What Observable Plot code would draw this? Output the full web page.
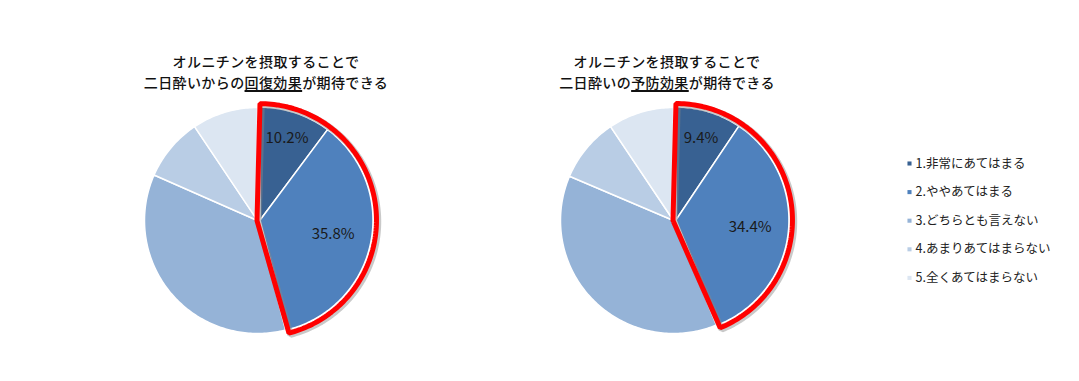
<!DOCTYPE html>
<html><head><meta charset="utf-8">
<script src="https://cdn.jsdelivr.net/npm/d3@7"></script>
<script src="https://cdn.jsdelivr.net/npm/@observablehq/plot@0.6"></script>
<style>
body{margin:0;background:#fff;}
#wrap{position:relative;width:1079px;height:381px;overflow:hidden;}
.tline{position:absolute;font-family:"Noto Sans CJK JP";font-size:14px;line-height:16px;height:16px;color:#111;font-weight:500;white-space:nowrap;transform:translateX(-50%);letter-spacing:0.4px;}
.tline span{display:inline-block;height:16px;line-height:16px;vertical-align:top;}
.tline span.u{text-decoration:underline;text-decoration-thickness:1.5px;text-underline-offset:2px;}
</style></head><body>
<div id="wrap"></div>
<script>
// ---- data ----
const categories = ["1.非常にあてはまる","2.ややあてはまる","3.どちらとも言えない","4.あまりあてはまらない","5.全くあてはまらない"];
const colors = ["#386192","#4f81bd","#95b3d7","#b9cde5","#dce6f2"];
const recoveryValues = [10.2, 35.8, 35.6, 9.0, 9.4];
const preventionValues = [9.4, 34.4, 37.6, 9.2, 9.4];
const titleLine1 = "オルニチンを摂取することで";
const recoveryTitle = ["二日酔いからの", "回復効果", "が期待できる"];
const preventionTitle = ["二日酔いの", "予防効果", "が期待できる"];
const labeledSlices = [0, 1];

// ---- layout ----
const W = 1079, H = 381, R = 113;
const pies = [
  {id: "recovery", values: recoveryValues, cx: 257, cy: 220, title: recoveryTitle, tx: 266},
  {id: "prevention", values: preventionValues, cx: 673, cy: 220, title: preventionTitle, tx: 667}
];

const slicePts = [], outlinePts = [], labels = [];
for (const p of pies) {
  const arcs = d3.pie().sort(null)(p.values);
  const hiA0 = arcs[0].startAngle, hiA1 = arcs[1].endAngle, bis = (hiA0 + hiA1) / 2;
  const ex = 2.5 * Math.sin(bis), ey = -2.5 * Math.cos(bis);
  arcs.forEach((a, i) => {
    const key = p.id + i;
    const dx = i < 2 ? ex : 0, dy = i < 2 ? ey : 0;
    const cx = p.cx + dx, cy = p.cy + dy;
    slicePts.push({key, cat: categories[i], x: cx, y: cy});
    const n = Math.max(2, Math.ceil((a.endAngle - a.startAngle) / (Math.PI / 180)));
    for (let k = 0; k <= n; k++) {
      const t = a.startAngle + (a.endAngle - a.startAngle) * k / n;
      slicePts.push({key, cat: categories[i], x: cx + R * Math.sin(t), y: cy - R * Math.cos(t)});
    }
    slicePts.push({key, cat: categories[i], x: cx, y: cy});
    if (labeledSlices.includes(i)) {
      const m = (a.startAngle + a.endAngle) / 2, lr = R * (i === 0 ? 0.76 : 0.66);
      labels.push({x: cx + lr * Math.sin(m), y: cy - lr * Math.cos(m), text: a.data.toFixed(1) + "%"});
    }
  });
  const ox = p.cx + ex - 3 * Math.sin(bis), oy = p.cy + ey + 3 * Math.cos(bis);
  const ro = R + 3.5;
  outlinePts.push({pie: p.id, x: ox, y: oy});
  const n = 120;
  for (let k = 0; k <= n; k++) {
    const t = hiA0 + (hiA1 - hiA0) * k / n;
    outlinePts.push({pie: p.id, x: p.cx + ex + ro * Math.sin(t), y: p.cy + ey - ro * Math.cos(t)});
  }
  outlinePts.push({pie: p.id, x: ox, y: oy});
}

const legend = categories.map((c, i) => ({cat: c, x: 909, y: 163 + i * 28.6}));

const plot = Plot.plot({
  width: W, height: H,
  margin: 0,
  x: {domain: [0, W], range: [0, W], axis: null},
  y: {domain: [0, H], range: [0, H], axis: null},
  color: {domain: categories, range: colors},
  style: {background: "white"},
  marks: [
    Plot.line(slicePts, {x: "x", y: "y", z: "key", fill: "cat", stroke: "white", strokeWidth: 1.5, curve: "linear", strokeLinejoin: "round"}),
    Plot.line(outlinePts, {x: d => d.x + 1.5, y: d => d.y + 1.5, z: "pie", stroke: "#888", strokeOpacity: 0.45, strokeWidth: 6.5, curve: "linear", strokeLinejoin: "miter"}),
    Plot.line(outlinePts, {x: "x", y: "y", z: "pie", stroke: "#ff0000", strokeWidth: 5, curve: "linear", strokeLinejoin: "miter"}),
    Plot.text(labels, {x: "x", y: "y", text: "text", fontSize: 15, fill: "#1a1a1a", fontFamily: "Noto Sans CJK JP"}),
    Plot.dot(legend, {x: "x", y: "y", fill: "cat", symbol: "square", r: 2.3, stroke: null}),
    Plot.text(legend, {x: d => d.x + 6, y: "y", text: "cat", textAnchor: "start", fontSize: 12.5, fill: "#222", fontFamily: "Noto Sans CJK JP"})
  ]
});
const wrap = document.getElementById("wrap");
wrap.appendChild(plot);
for (const p of pies) {
  const l1 = document.createElement("div");
  l1.className = "tline";
  l1.style.left = p.tx + "px";
  l1.style.top = "53px";
  l1.innerHTML = "<span>" + titleLine1 + "</span>";
  wrap.appendChild(l1);
  const l2 = document.createElement("div");
  l2.className = "tline";
  l2.style.left = p.tx + "px";
  l2.style.top = "73.5px";
  l2.innerHTML = "<span>" + p.title[0] + "</span><span class=\"u\">" + p.title[1] + "</span><span>" + p.title[2] + "</span>";
  wrap.appendChild(l2);
}
</script>
</body></html>
